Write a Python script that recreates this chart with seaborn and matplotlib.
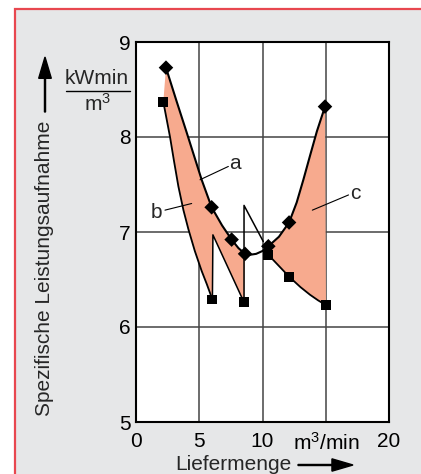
import matplotlib
matplotlib.use("Agg")
import matplotlib.pyplot as plt
from matplotlib.patches import Rectangle, FancyArrow
import seaborn as sns

# curve a (upper envelope, diamonds)
a_x = [2.37, 3.2, 4.0, 5.19, 5.98, 6.8, 7.56, 8.1, 8.62, 9.0, 9.5, 10.0, 10.46, 11.3, 12.1, 12.7, 13.23, 13.75, 14.3, 14.94]
a_y = [8.73, 8.38, 8.05, 7.55, 7.26, 7.07, 6.92, 6.83, 6.77, 6.76, 6.77, 6.80, 6.85, 6.95, 7.10, 7.31, 7.55, 7.80, 8.06, 8.32]
a_mark_x = [2.37, 5.98, 7.56, 8.62, 10.46, 12.1, 14.94]
a_mark_y = [8.73, 7.26, 6.92, 6.77, 6.85, 7.10, 8.32]

# curve b (lower left)
b_x = [2.16, 2.69, 3.0, 3.35, 3.75, 4.14, 4.65, 5.19, 5.6, 6.04]
b_y = [8.37, 8.00, 7.75, 7.48, 7.23, 7.03, 6.80, 6.59, 6.45, 6.29]

# saw-tooth after b
saw_x = [6.04, 6.08, 8.54, 8.54, 10.06]
saw_y = [6.29, 6.97, 6.26, 7.28, 6.90]

# curve c (lower right)
c_x = [10.46, 12.1, 13.0, 13.75, 14.4, 15.02]
c_y = [6.76, 6.53, 6.42, 6.34, 6.28, 6.23]

sq_x = [2.16, 6.04, 8.54, 10.46, 12.1, 15.02]
sq_y = [8.37, 6.29, 6.26, 6.76, 6.53, 6.23]

x_ticks = [0, 5, 10, 15, 20]
x_ticklabels = ["0", "5", "10", "m$^{3}$/min", "20"]
y_ticks = [5, 6, 7, 8, 9]

salmon = "#f7aa8e"
fs = 15

sns.set_style("white")
plt.rcParams["font.family"] = ["Liberation Sans", "DejaVu Sans"]
plt.rcParams["mathtext.default"] = "regular"

fig = plt.figure(figsize=(4.21, 4.74), dpi=100)
fig.patch.set_facecolor("white")
# grey panel with red border
panel = Rectangle((15.5 / 421, -0.01), 1.0, 1 - 8.5 / 474 + 0.01, transform=fig.transFigure,
                  facecolor="#e6e7e8", edgecolor="#e8474f", lw=1.6, zorder=-5)
fig.patches.append(panel)

ax = fig.add_axes([136 / 421, 1 - 422 / 474, 253 / 421, 380 / 474])
ax.set_facecolor("white")
ax.set_zorder(2)

# shaded areas
left_poly_x = [x for x in a_x if x <= 8.62] + [8.54, 6.08] + b_x[::-1]
left_poly_y = [y for x, y in zip(a_x, a_y) if x <= 8.62] + [6.26, 6.97] + b_y[::-1]
ax.fill(left_poly_x, left_poly_y, color=salmon, lw=0, zorder=1)
right_poly_x = [x for x in a_x if x >= 10.46] + [15.02] + c_x[::-1]
right_poly_y = [y for x, y in zip(a_x, a_y) if x >= 10.46] + [6.23] + c_y[::-1]
ax.fill(right_poly_x, right_poly_y, color=salmon, lw=0, zorder=1)

sns.lineplot(x=a_x, y=a_y, sort=False, estimator=None, color="black", lw=1.5, ax=ax)
sns.lineplot(x=b_x, y=b_y, sort=False, estimator=None, color="black", lw=1.3, ax=ax)
sns.lineplot(x=saw_x, y=saw_y, sort=False, estimator=None, color="black", lw=1.1, ax=ax)
sns.lineplot(x=c_x, y=c_y, sort=False, estimator=None, color="black", lw=1.3, ax=ax)

sns.scatterplot(x=a_mark_x, y=a_mark_y, marker="D", s=55, color="black", edgecolor="none", zorder=5, ax=ax)
sns.scatterplot(x=sq_x, y=sq_y, marker="s", s=50, color="black", edgecolor="none", zorder=5, ax=ax)

# labels a, b, c with leader lines
ax.plot([5.06, 7.3], [7.55, 7.69], color="black", lw=0.8)
ax.text(7.85, 7.72, "a", fontsize=fs, ha="center", va="center")
ax.plot([2.29, 4.4], [7.23, 7.3], color="black", lw=0.8)
ax.text(1.65, 7.2, "b", fontsize=fs, ha="center", va="center")
ax.plot([13.94, 16.8], [7.23, 7.39], color="black", lw=0.8)
ax.text(17.3, 7.41, "c", fontsize=fs, ha="center", va="center")

ax.set_xlim(0, 20)
ax.set_ylim(5, 9)
ax.set_xticks(x_ticks)
ax.set_xticklabels(x_ticklabels)
ax.set_yticks(y_ticks)
ax.tick_params(length=0, labelsize=fs, colors="black")
ax.tick_params(axis="x", pad=7)
ax.tick_params(axis="y", pad=4)
ax.grid(True, color="#444444", lw=1.1)
for s in ax.spines.values():
    s.set_visible(True)
    s.set_color("black")
    s.set_linewidth(1.5)

# axis titles with arrows
fig.text(45 / 421, 1 - 268 / 474, "Spezifische Leistungsaufnahme", rotation=90, fontsize=fs,
         ha="center", va="center")
fig.patches.append(FancyArrow(45 / 421, 1 - 112 / 474, 0, 55 / 474, transform=fig.transFigure,
                              width=0.0025, head_width=0.03, head_length=0.045,
                              length_includes_head=True, color="black"))
fig.text(97 / 421, 1 - 79 / 474, "kWmin", fontsize=fs, ha="center", va="center")
fig.lines.append(plt.Line2D([66 / 421, 130 / 421], [1 - 91 / 474, 1 - 91 / 474], transform=fig.transFigure,
                            color="black", lw=1))
fig.text(98 / 421, 1 - 104 / 474, "m$^{3}$", fontsize=fs, ha="center", va="center")

fig.text(233 / 421, 1 - 464 / 474, "Liefermenge", fontsize=fs, ha="center", va="center")
fig.patches.append(FancyArrow(298 / 421, 1 - 465 / 474, 55 / 421, 0, transform=fig.transFigure,
                              width=0.0022, head_width=0.026, head_length=0.05,
                              length_includes_head=True, color="black"))

fig.savefig("out.png", dpi=100)
